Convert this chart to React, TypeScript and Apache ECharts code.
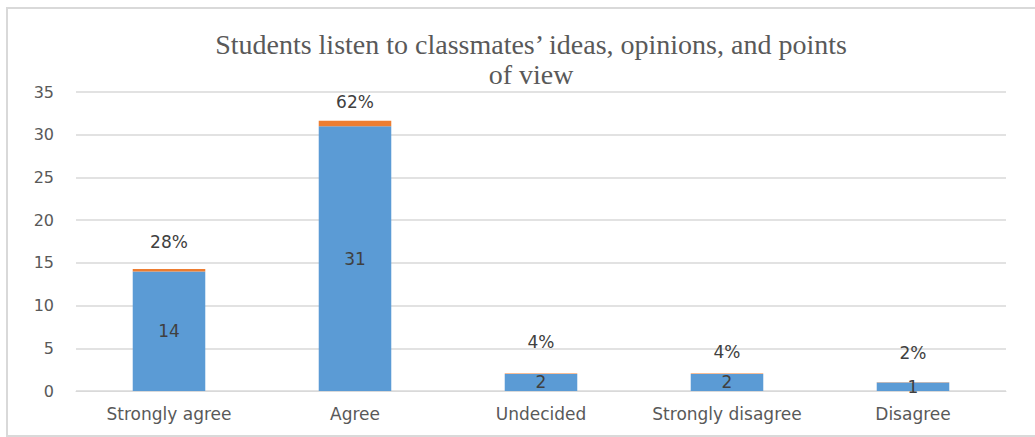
import React, { useEffect, useRef } from "react";
import * as echarts from "echarts";

const categories = ["Strongly agree", "Agree", "Undecided", "Strongly disagree", "Disagree"];
const counts = [14, 31, 2, 2, 1];
const shares = [0.28, 0.62, 0.04, 0.04, 0.02];
const yTicks = { min: 0, max: 35, interval: 5 };
const titleText = "Students listen to classmates\u2019 ideas, opinions, and points\nof view";

// label lift (style only) for the percentage labels, as placed in the original
const shareLabelLift = [19, 10, 23, 13, 21];

export default function App() {
  const ref = useRef<HTMLDivElement>(null);
  useEffect(() => {
    if (!ref.current) return;
    const chart = echarts.init(ref.current, undefined, { renderer: "svg" });
    const font = "DejaVu Sans";
    chart.setOption({
      animation: false,
      backgroundColor: "#ffffff",
      graphic: [
        {
          type: "rect",
          shape: { x: 7, y: 8, width: 1040, height: 428 },
          style: { fill: "none", stroke: "#d9d9d9", lineWidth: 2 },
          silent: true,
        },
        {
          type: "text",
          x: 531,
          y: 29,
          style: {
            text: titleText,
            textAlign: "center",
            fontFamily: "Liberation Serif",
            fontSize: 28,
            lineHeight: 30,
            fill: "#595959",
          },
        },
      ],
      grid: { left: 76, right: 29, top: 92, bottom: 46 },
      xAxis: {
        type: "category",
        data: categories,
        axisLine: { lineStyle: { color: "#d9d9d9", width: 1 } },
        axisTick: { show: false },
        axisLabel: {
          color: "#595959",
          fontFamily: font,
          fontSize: 17,
          margin: 14,
          interval: 0,
          hideOverlap: false,
        },
      },
      yAxis: {
        type: "value",
        min: yTicks.min,
        max: yTicks.max,
        interval: yTicks.interval,
        axisLine: { show: false },
        axisTick: { show: false },
        axisLabel: { color: "#595959", fontFamily: font, fontSize: 16, margin: 22 },
        splitLine: { lineStyle: { color: "#d9d9d9", width: 1.5 } },
      },
      series: [
        {
          name: "Count",
          type: "bar",
          stack: "total",
          data: counts,
          barCategoryGap: "61%",
          itemStyle: { color: "#5b9bd5" },
          label: {
            show: true,
            position: "inside",
            color: "#404040",
            fontFamily: font,
            fontSize: 17,
          },
        },
        {
          name: "Share",
          type: "bar",
          stack: "total",
          data: shares.map((v, i) => ({
            value: v,
            label: { distance: shareLabelLift[i] },
          })),
          itemStyle: { color: "#ed7d31" },
          label: {
            show: true,
            position: "top",
            color: "#404040",
            fontFamily: font,
            fontSize: 17,
            formatter: (p: any) => Math.round(p.value * 100) + "%",
          },
        },
      ],
    });
    return () => chart.dispose();
  }, []);
  return (
    <div
      ref={ref}
      style={{ position: "fixed", left: 0, top: 0, width: 1035, height: 437 }}
    />
  );
}
